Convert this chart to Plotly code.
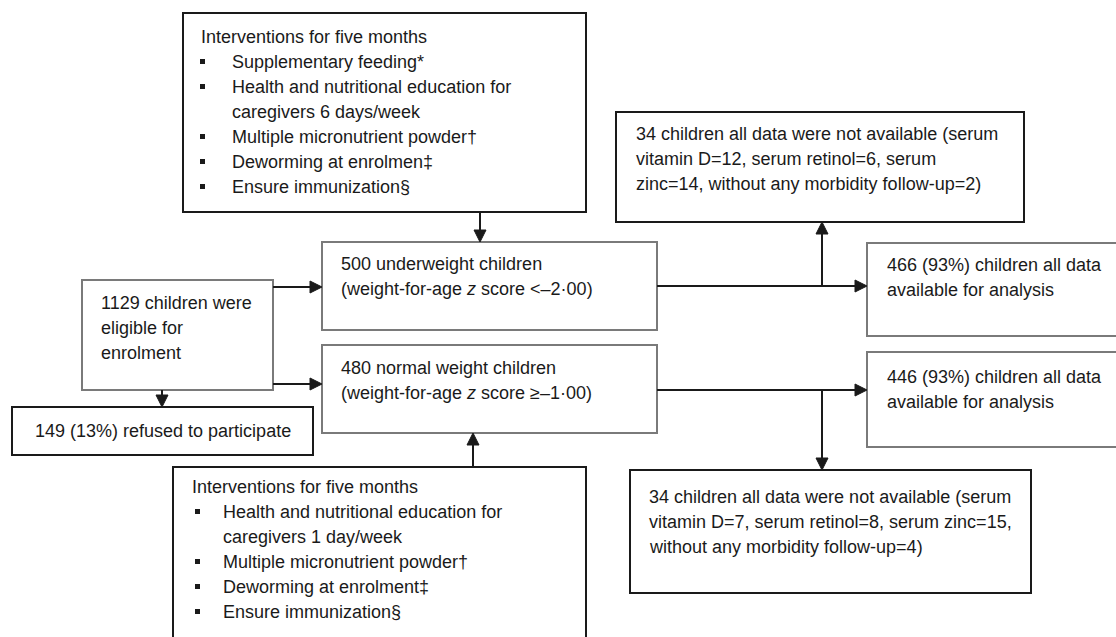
import plotly.graph_objects as go

W, H = 1116, 637

# ---- texts (data) ----
top_title = "Interventions for five months"
top_items = [["Supplementary feeding*"],
             ["Health and nutritional education for", "caregivers 6 days/week"],
             ["Multiple micronutrient powder†"],
             ["Deworming at enrolmen‡"],
             ["Ensure immunization§"]]
bot_title = "Interventions for five months"
bot_items = [["Health and nutritional education for", "caregivers 1 day/week"],
             ["Multiple micronutrient powder†"],
             ["Deworming at enrolment‡"],
             ["Ensure immunization§"]]
eligible_lines = ["1129 children were", "eligible for", "enrolment"]
refused_text = "149 (13%) refused to participate"
under_lines = ["500 underweight children", "(weight-for-age <i>z</i> score <–2·00)"]
normal_lines = ["480 normal weight children", "(weight-for-age <i>z</i> score ≥–1·00)"]
miss_top_lines = ["34 children all data were not available (serum",
                  "vitamin D=12, serum retinol=6, serum",
                  "zinc=14, without any morbidity follow-up=2)"]
miss_bot_lines = ["34 children all data were not available (serum",
                  "vitamin D=7, serum retinol=8, serum zinc=15,",
                  "without any morbidity follow-up=4)"]
avail_top_lines = ["466 (93%) children all data", "available for analysis"]
avail_bot_lines = ["446 (93%) children all data", "available for analysis"]

# ---- layout geometry (pixels, y down) ----
BLACK = "#1a1a1a"
GRAY = "#7a7a7a"
TXT = "#1a1a1a"
FONT = "Liberation Sans, Arial, sans-serif"
FS = 18
LH = 25

boxes = {
    "A": dict(x0=183, x1=586, y0=13, y1=212, c=BLACK),
    "B": dict(x0=322, x1=657, y0=242, y1=330, c=GRAY),
    "C": dict(x0=82, x1=273, y0=280, y1=390, c=GRAY),
    "D": dict(x0=322, x1=657, y0=345, y1=433, c=GRAY),
    "E": dict(x0=12, x1=313, y0=407, y1=455, c=BLACK),
    "F": dict(x0=173, x1=586, y0=467, y1=660, c=BLACK),
    "G": dict(x0=616, x1=1024, y0=112, y1=222, c=BLACK),
    "H": dict(x0=867, x1=1130, y0=243, y1=336, c=GRAY),
    "I": dict(x0=867, x1=1130, y0=352, y1=447, c=GRAY),
    "J": dict(x0=630, x1=1031, y0=470, y1=593, c=BLACK),
}

shapes = []
annotations = []

for b in boxes.values():
    shapes.append(dict(type="rect", xref="x", yref="y", x0=b["x0"], x1=b["x1"],
                       y0=b["y0"], y1=b["y1"], line=dict(color=b["c"], width=2),
                       fillcolor="white", layer="below"))


def text(x, y, s, anchor="left"):
    annotations.append(dict(x=x, y=y, xref="x", yref="y", text=s, showarrow=False,
                            xanchor=anchor, yanchor="middle",
                            font=dict(family=FONT, size=FS, color=TXT)))


def lines(x, y, arr):
    for i, s in enumerate(arr):
        text(x, y + i * LH, s)


def bullet_list(title, items, tx, ty, bx, ix):
    text(tx, ty, title)
    y = ty + LH
    for item in items:
        shapes.append(dict(type="rect", xref="x", yref="y", x0=bx, x1=bx + 5,
                           y0=y - 3, y1=y + 2, line=dict(width=0), fillcolor=TXT))
        for s in item:
            text(ix, y, s)
            y += LH


def seg(x0, y0, x1, y1):
    shapes.append(dict(type="line", xref="x", yref="y", x0=x0, y0=y0, x1=x1, y1=y1,
                       line=dict(color=BLACK, width=2)))


def arrow(x0, y0, x1, y1):
    L, Wd = 12, 6
    if x0 == x1:
        d = 1 if y1 > y0 else -1
        seg(x0, y0, x1, y1 - d * L)
        path = f"M{x1-Wd},{y1-d*L} L{x1+Wd},{y1-d*L} L{x1},{y1} Z"
    else:
        d = 1 if x1 > x0 else -1
        seg(x0, y0, x1 - d * L, y1)
        path = f"M{x1-d*L},{y1-Wd} L{x1-d*L},{y1+Wd} L{x1},{y1} Z"
    shapes.append(dict(type="path", xref="x", yref="y", path=path,
                       fillcolor=BLACK, line=dict(color=BLACK, width=1)))


# texts
bullet_list(top_title, top_items, 199, 37, 200, 230)
bullet_list(bot_title, bot_items, 190, 487, 195, 221)
lines(99, 303, eligible_lines)
text((boxes["E"]["x0"] + boxes["E"]["x1"]) / 2, 431, refused_text, anchor="center")
lines(339, 264, under_lines)
lines(339, 368, normal_lines)
lines(634, 134, miss_top_lines)
lines(647, 497, miss_bot_lines)
lines(885, 265, avail_top_lines)
lines(885, 377, avail_bot_lines)

# arrows
arrow(480, 212, 480, 242)            # A -> B
arrow(273, 287, 322, 287)            # C -> B
arrow(273, 384, 322, 384)            # C -> D
arrow(162, 390, 162, 407)            # C -> E
arrow(473, 467, 473, 433)            # F -> D
arrow(657, 286, 867, 286)            # B -> H
arrow(822, 286, 822, 222)            # branch -> G
arrow(657, 390, 867, 390)            # D -> I
arrow(822, 390, 822, 470)            # branch -> J

fig = go.Figure()
fig.update_layout(
    width=W, height=H, margin=dict(l=0, r=0, t=0, b=0),
    paper_bgcolor="white", plot_bgcolor="white",
    xaxis=dict(range=[0, W], visible=False, fixedrange=True),
    yaxis=dict(range=[H, 0], visible=False, fixedrange=True),
    shapes=shapes, annotations=annotations, showlegend=False,
)
fig.write_html("out.html", config={"displayModeBar": False},
               post_script="document.body.style.margin='0';document.body.style.overflow='hidden';")
